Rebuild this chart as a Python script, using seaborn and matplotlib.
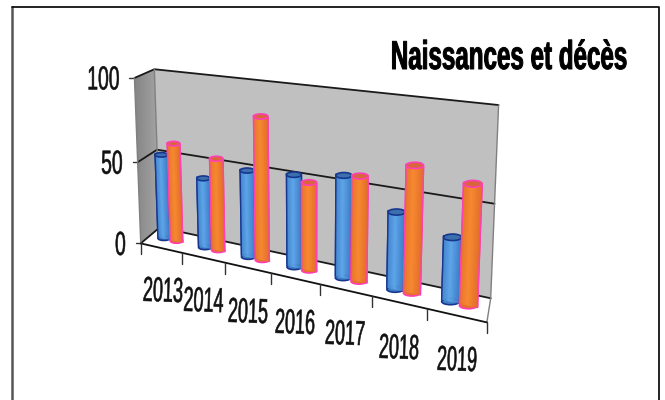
import numpy as np
import pandas as pd
import seaborn as sns
import matplotlib
matplotlib.use("Agg")
import matplotlib.pyplot as plt
from matplotlib.colors import LinearSegmentedColormap, to_rgb
from matplotlib.patches import Ellipse, Polygon, Rectangle
from matplotlib.patheffects import AbstractPathEffect
from matplotlib.transforms import Affine2D, IdentityTransform, Transform

annees = ["2013", "2014", "2015", "2016", "2017", "2018", "2019"]
naissances = [52, 42, 51, 53, 57, 42, 34]
deces = [60, 55, 83, 50, 58, 68, 63]
y_ticks = [0, 50, 100]
titre = "Naissances et décès"

W, H = 665, 400

sns.set_theme(style="white")
plt.rcParams["font.family"] = ["Liberation Sans", "DejaVu Sans"]

# picture pixel <-> (category edge, value, depth) pairs, used to fit the camera
camera_pts = [
    ((0, 0, 0), (142, 242)), ((0, 100, 0), (134, 79)), ((0, 50, 0), (135, 161)),
    ((0, 0, 1), (158, 229)), ((0, 50, 1), (157, 150)), ((0, 100, 1), (156, 69)),
    ((7, 100, 1), (499, 105)), ((7, 50, 1), (494, 203)), ((7, 0, 1), (491, 297)),
    ((7, 0, 0), (487, 323)), ((1, 0, 0), (183, 252)), ((2, 0, 0), (226, 262)),
    ((3, 0, 0), (272, 275)), ((4, 0, 0), (319, 283)), ((5, 0, 0), (371, 297)),
    ((6, 0, 0), (427, 310)),
]


def fit_camera(pts):
    rows, rhs = [], []
    for (x, v, d), (u, w) in pts:
        rows.append([x, v, d, 1, 0, 0, 0, 0, -u * x, -u * v, -u * d])
        rows.append([0, 0, 0, 0, x, v, d, 1, -w * x, -w * v, -w * d])
        rhs += [u, w]
    p = np.linalg.lstsq(np.array(rows, float), np.array(rhs, float), rcond=None)[0]
    return np.append(p, 1).reshape(3, 4)


CAM = fit_camera(camera_pts)


def project(x, v, d):
    # to picture pixels, y going down
    x, v, d = np.broadcast_arrays(x, v, d)
    q = CAM @ np.vstack([x.ravel(), v.ravel(), d.ravel(), np.ones(x.size)])
    return q[0] / q[2], q[1] / q[2]


class Plane(Transform):
    # (seaborn bar position, value) -> display, on one depth plane
    input_dims = 2
    output_dims = 2
    is_separable = False
    has_inverse = False

    def __init__(self, plane_d):
        super().__init__()
        self.plane_d = plane_d

    def transform_non_affine(self, values):
        values = np.asarray(values)
        u, w = project(values[:, 0] + 0.5, values[:, 1], self.plane_d)
        return np.column_stack([u, H - w])


class Squeeze(AbstractPathEffect):
    # no narrow font installed, so squeeze the glyphs about the text anchor
    def __init__(self, x, y, sx, angle=0, stroke=0.0):
        super().__init__()
        self.stroke = stroke
        self.squeeze = (Affine2D().translate(-x, -(H - y)).rotate_deg(-angle).scale(sx, 1)
                        .rotate_deg(angle).translate(x, H - y))

    def draw_path(self, renderer, gc, tpath, affine, rgbFace=None):
        gc0 = renderer.new_gc()
        gc0.copy_properties(gc)
        gc0.set_linewidth(self.stroke)
        gc0.set_foreground(rgbFace)
        renderer.draw_path(gc0, tpath, affine + self.squeeze, rgbFace)
        gc0.restore()


fig = plt.figure(figsize=(W / 100, H / 100), dpi=100, facecolor="white")

# walls, floor, frame and texts in pixel coordinates
bg = fig.add_axes([0, 0, 1, 1])
bg.set_xlim(0, W)
bg.set_ylim(H, 0)
bg.axis("off")


def corner(x, v, d):
    u, w = project(x, v, d)
    return float(u[0]), float(w[0])


def squeezed_text(x, y, s, sx, angle=0, stroke=0.4, **kw):
    t = bg.text(x, y, s, va="center", rotation=angle, rotation_mode="anchor", **kw)
    t.set_path_effects([Squeeze(x, y, sx, angle, stroke)])
    return t


bg.plot([12, 12], [7, 400], color="#555555", lw=1.8)
bg.plot([12, 659, 659], [7, 7, 400], color="#111111", lw=1.3)

bg.add_patch(Polygon([corner(0, 0, 1), corner(7, 0, 1), corner(7, 100, 1), corner(0, 100, 1)], fc="#c0c0c0", ec="none"))
left = Polygon([corner(0, 0, 0), corner(0, 0, 1), corner(0, 100, 1), corner(0, 100, 0)], fc="none", ec="none")
bg.add_patch(left)
img = bg.imshow(np.linspace(0, 1, 40).reshape(1, -1), extent=(130, 160, 250, 65),
                cmap=LinearSegmentedColormap.from_list("w", ["#7f7f7f", "#a6a6a6"]), aspect="auto")
img.set_clip_path(left)
bg.set_xlim(0, W)
bg.set_ylim(H, 0)

for t in y_ticks:
    p0, p1, p2 = corner(0, t, 0), corner(0, t, 1), corner(7, t, 1)
    bg.plot([p0[0], p1[0], p2[0]], [p0[1], p1[1], p2[1]], color="#1a1a1a", lw=1.3)
    bg.plot([p0[0] - 5, p0[0]], [p0[1], p0[1]], color="#333333", lw=1)
    squeezed_text(p0[0] - 15, p0[1] + 3, str(t), 0.58, ha="right", fontsize=24, color="#111111")

for a, b in [((0, 0, 0), (0, 100, 0)), ((0, 0, 1), (0, 100, 1)), ((7, 0, 1), (7, 100, 1)), ((7, 0, 0), (7, 0, 1))]:
    p0, p1 = corner(*a), corner(*b)
    bg.plot([p0[0], p1[0]], [p0[1], p1[1]], color="#808080", lw=1)

p0, p1 = corner(0, 0, 0), corner(7, 0, 0)
bg.plot([p0[0], p1[0]], [p0[1], p1[1]], color="#111111", lw=1.3)
for k in range(8):
    px, py = corner(k, 0, 0)
    bg.plot([px, px], [py, py + 11], color="#333333", lw=1)

label_xy = [(163, 292), (203.5, 302), (248, 313), (295, 324), (345, 335), (399, 349), (457, 361)]
for lab, (lx, ly) in zip(annees, label_xy):
    squeezed_text(lx, ly, lab, 0.52, angle=-2, ha="center", fontsize=25, color="#111111")

squeezed_text(627, 58, titre, 0.6, stroke=0.7, ha="right", fontsize=29, fontweight="bold", color="black")

# bars with seaborn, then laid on the depth plane
ax = fig.add_axes([0, 0, 1, 1], facecolor="none")
df = pd.DataFrame({
    "annee": annees * 2,
    "valeur": naissances + deces,
    "serie": ["Naissances"] * len(annees) + ["Décès"] * len(annees),
})
palette = {"Naissances": "#4f97e0", "Décès": "#f07f2c"}
sns.barplot(data=df, x="annee", y="valeur", hue="serie", palette=palette, width=0.62, gap=0, legend=False, ax=ax)
ax.axis("off")

plane = Plane(0.5)
looks = [
    ("#4f97e0", "#3f7fc8", "#5fa6ea", "#17368f", "#3c70ad"),
    ("#f07f2c", "#e4702a", "#f88a32", "#ff3fb4", "#d9653c"),
]
n_bars = len(annees)
for i, bar in enumerate(list(ax.patches)[: 2 * n_bars]):
    base, dark, light, edge, cap = looks[i // n_bars]
    x0, bw, val = bar.get_x(), bar.get_width(), bar.get_height()
    z = 2 + i // n_bars * 100 + (i % n_bars) * 5
    bar.set(transform=plane, clip_on=False, edgecolor=edge, linewidth=1.0, facecolor=base, zorder=z)

    (ul, ur), (wl, wr) = project([x0 + 0.5, x0 + bw + 0.5], [0, 0], [0.5, 0.5])
    (tl, tr), (sl, sr) = project([x0 + 0.5, x0 + bw + 0.5], [val, val], [0.5, 0.5])
    foot = Ellipse(((ul + ur) / 2, H - (wl + wr) / 2), ur - ul, 0.36 * (ur - ul), fc=dark, ec=edge, lw=1.2,
                   transform=IdentityTransform(), clip_on=False, zorder=z + 0.1)
    ax.add_patch(foot)
    n = 14
    for k in range(n):
        f = (k + 0.5) / n
        mix = 1 - abs(f - 0.45) * 2
        col = np.array(to_rgb(dark)) * (1 - mix) + np.array(to_rgb(light)) * mix
        ax.add_patch(Rectangle((x0 + bw * k / n, 0), bw / n, val, transform=plane, fc=col, ec=col, lw=0.3,
                               clip_on=False, zorder=z + 0.2))
    for side in (x0, x0 + bw):
        ax.plot([side, side], [0, val], transform=plane, color=edge, lw=1.0, clip_on=False, zorder=z + 0.3)
    top = Ellipse(((tl + tr) / 2, H - (sl + sr) / 2), tr - tl, 0.36 * (tr - tl), fc=cap, ec=edge, lw=1.2,
                  transform=IdentityTransform(), clip_on=False, zorder=z + 0.4)
    ax.add_patch(top)

fig.savefig("out.png", dpi=100)
